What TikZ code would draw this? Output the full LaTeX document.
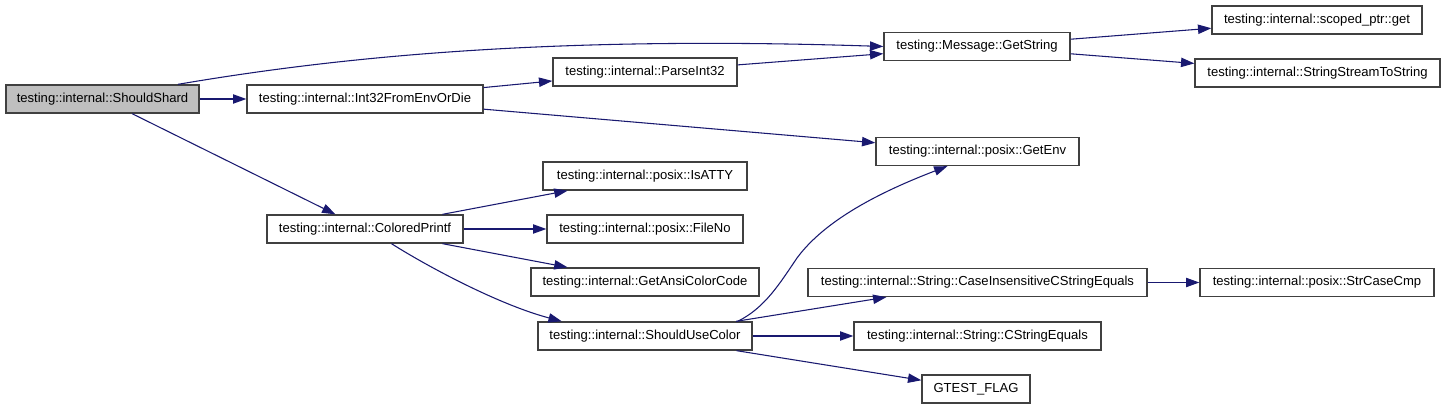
\documentclass[tikz,border=0pt]{standalone}
\usepackage{fontspec}
\setmainfont{Liberation Sans}
\usetikzlibrary{arrows.meta}
\definecolor{edgeblue}{RGB}{25,25,112}
\definecolor{boxline}{RGB}{64,64,64}
\begin{document}
\begin{tikzpicture}[x=0.75pt,y=-0.75pt,
  box/.style={draw=boxline,line width=1pt,fill=white,minimum height=21pt,inner sep=0pt,
    font=\fontsize{9.8pt}{11pt}\selectfont,text=black},
  cur/.style={box,fill=black!25},
  call/.style={draw=edgeblue,line width=0.8pt,-{Triangle[length=10pt,width=7pt]}}]
\useasboundingbox (0,0) rectangle (1445,409);
\fill[white] (0,0) rectangle (1445,409);
% nodes
\node[cur,minimum width=144.75pt] (ss) at (102.5,99) {testing::internal::ShouldShard};
\node[box,minimum width=177pt] (i32) at (365,99) {testing::internal::Int32FromEnvOrDie};
\node[box,minimum width=138pt] (pi) at (645,72) {testing::internal::ParseInt32};
\node[box,minimum width=139.5pt] (gs) at (977,46.5) {testing::Message::GetString};
\node[box,minimum width=157.5pt] (sp) at (1317,20) {testing::internal::scoped\_ptr::get};
\node[box,minimum width=183.75pt] (sts) at (1317.5,73) {testing::internal::StringStreamToString};
\node[box,minimum width=152.25pt] (ge) at (977.5,151.5) {testing::internal::posix::GetEnv};
\node[box,minimum width=147pt] (cp) at (365,229) {testing::internal::ColoredPrintf};
\node[box,minimum width=153pt] (ia) at (645,176) {testing::internal::posix::IsATTY};
\node[box,minimum width=147pt] (fn) at (645,229) {testing::internal::posix::FileNo};
\node[box,minimum width=171pt] (ga) at (645,282) {testing::internal::GetAnsiColorCode};
\node[box,minimum width=160.5pt] (suc) at (645,336) {testing::internal::ShouldUseColor};
\node[box,minimum width=254.25pt] (ci) at (977.5,282.5) {testing::internal::String::CaseInsensitiveCStringEquals};
\node[box,minimum width=175.5pt] (scc) at (1317,282.5) {testing::internal::posix::StrCaseCmp};
\node[box,minimum width=185.25pt] (cse) at (977.5,336) {testing::internal::String::CStringEquals};
\node[box,minimum width=81pt] (gf) at (976,389) {GTEST\_FLAG};
% edges
\draw[call] (ss.11.4) .. controls (350,55) and (560,36) .. (gs.west);
\draw[call] (ss) -- (i32);
\draw[call] (ss) -- (cp);
\draw[call] (i32) -- (pi);
\draw[call] (i32) -- (ge);
\draw[call] (pi) -- (gs);
\draw[call] (gs) -- (sp);
\draw[call] (gs) -- (sts);
\draw[call] (cp) -- (ia);
\draw[call] (cp) -- (fn);
\draw[call] (cp) -- (ga);
\draw[call] (cp.-29.2) .. controls (430,268) and (500,305) .. (suc.170.6);
\draw[call] (suc.9.24) .. controls (765,308) and (780,283) .. (797,258)
  .. controls (825,220) and (880,192) .. (ge.-154.6);
\draw[call] (suc) -- (ci);
\draw[call] (suc) -- (cse);
\draw[call] (suc) -- (gf);
\draw[call] (ci) -- (scc);
\end{tikzpicture}
\end{document}
